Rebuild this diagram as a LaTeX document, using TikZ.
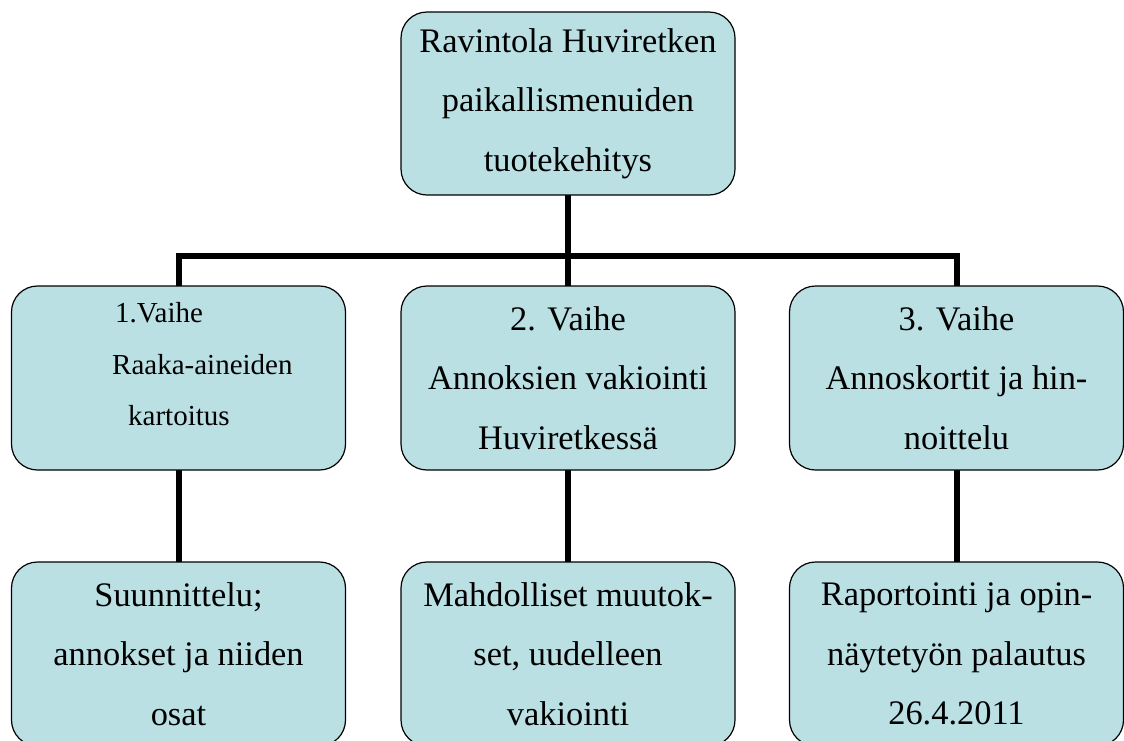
\documentclass[tikz,border=0pt]{standalone}
\usepackage{fontspec}
\setmainfont{Liberation Serif}
\definecolor{boxfill}{RGB}{186,224,228}
\begin{document}
\begin{tikzpicture}[x=1pt,y=-1pt,
  box/.style={draw=black, line width=1.2pt, fill=boxfill, rounded corners=26pt,
    minimum width=334pt, minimum height=184pt, inner sep=0pt, align=center,
    font=\fontsize{34.4}{59.5}\selectfont},
  smalltext/.style={anchor=base west, inner sep=0pt, font=\fontsize{29}{35}\selectfont},
  conn/.style={line width=6pt}]
\useasboundingbox (0,0) rectangle (1124,740);
\clip (0,0) rectangle (1124,740);
\coordinate (bar) at (0,255.5);
% connectors first
\coordinate (topS) at (568,195);
\coordinate (m1N) at (179,286);
\coordinate (m2N) at (568,286);
\coordinate (m3N) at (957,286);
\draw[conn] (topS) -- (m2N);
\draw[conn] (m1N) -- (m1N |- bar) -- (m3N |- bar) -- (m3N);
\coordinate (m1S) at (179,470);
\coordinate (m2S) at (568,470);
\coordinate (m3S) at (957,470);
\coordinate (b1N) at (179,562);
\coordinate (b2N) at (568,562);
\coordinate (b3N) at (957,562);
\draw[conn] (m1S) -- (b1N);
\draw[conn] (m2S) -- (b2N);
\draw[conn] (m3S) -- (b3N);
% boxes
\node[box, minimum height=183pt] (top) at (568,103.5) {Ravintola Huviretken\\paikallismenuiden\\tuotekehitys};
\node[box] (m1) at (178.5,378) {};
\node[box] (m2) at (568,378) {2. Vaihe\\Annoksien vakiointi\\Huviretkessä};
\node[box] (m3) at (956.5,378) {3. Vaihe\\Annoskortit ja hin-\\noittelu};
\node[box] (b1) at (178.5,654) {Suunnittelu;\\annokset ja niiden\\osat};
\node[box] (b2) at (568,654) {Mahdolliset muutok-\\set, uudelleen\\vakiointi};
\node[box] (b3) at (956.5,654) {Raportointi ja opin-\\näytetyön palautus\\26.4.2011};
% text of phase 1
\node[smalltext] (t1a) at (115,322) {1.Vaihe};
\node[smalltext] (t1b) at (112,374) {Raaka-aineiden};
\node[smalltext] (t1c) at (128,425) {kartoitus};
\end{tikzpicture}
\end{document}
